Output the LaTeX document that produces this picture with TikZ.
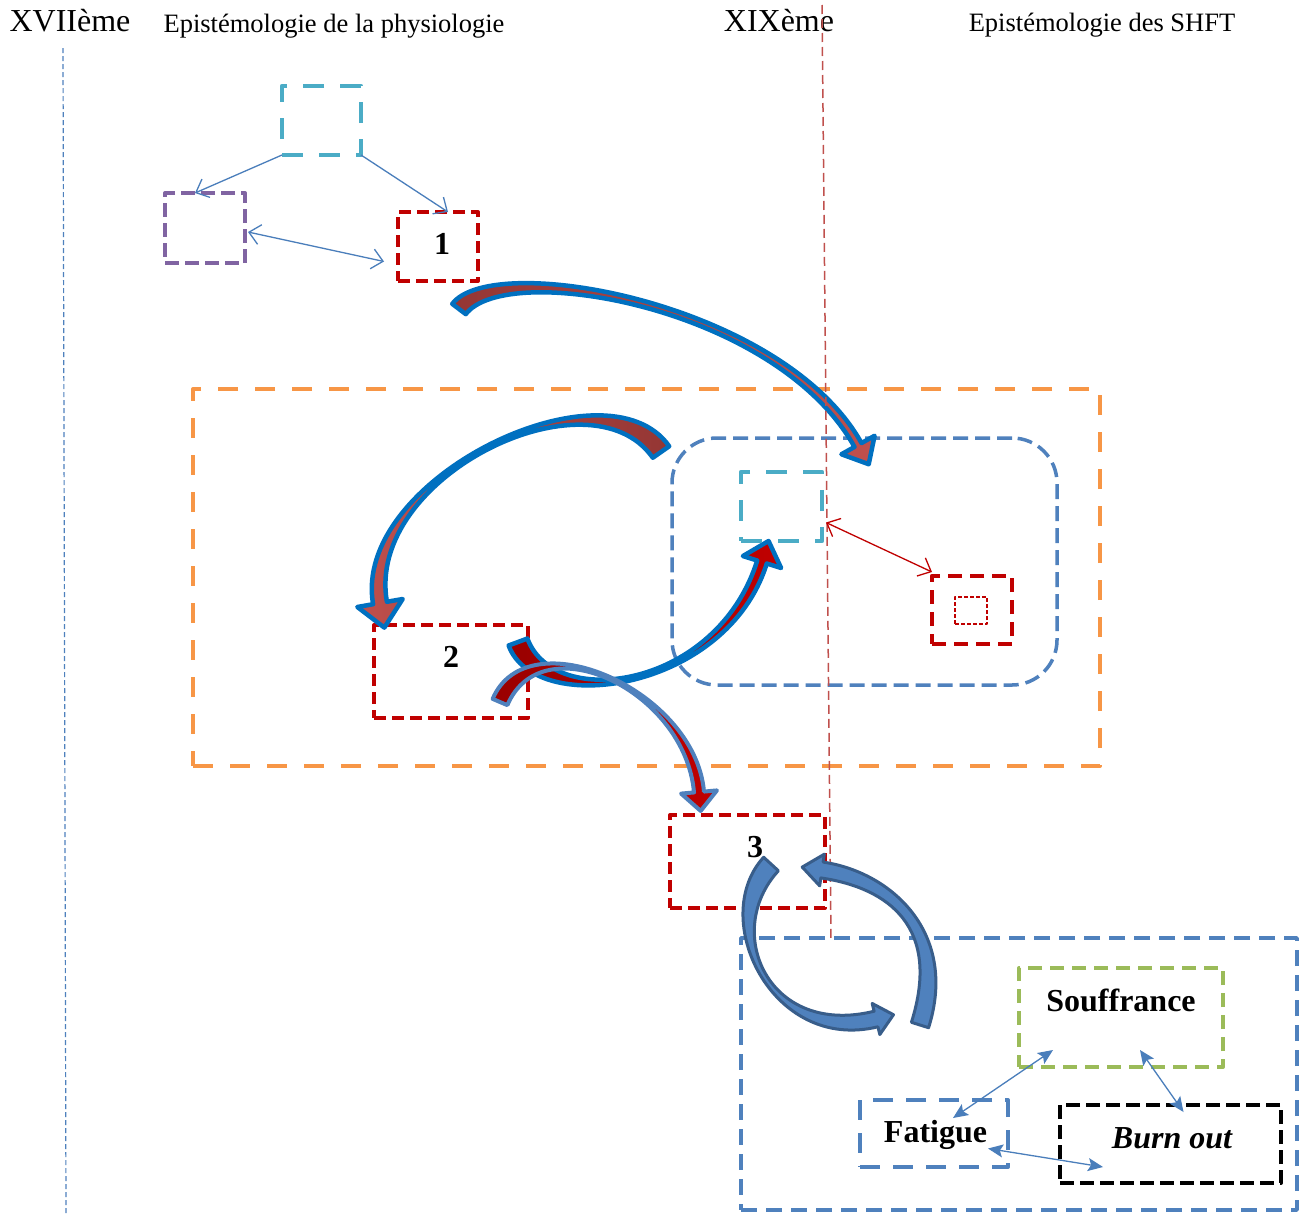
\documentclass[tikz,border=0pt]{standalone}
\usepackage{fontspec}
\setmainfont{Liberation Serif}
\usetikzlibrary{calc,arrows.meta}
\definecolor{cyanb}{HTML}{4BACC6}
\definecolor{purp}{HTML}{8064A2}
\definecolor{dred}{HTML}{C00000}
\definecolor{orng}{HTML}{F79646}
\definecolor{stblue}{HTML}{4F81BD}
\definecolor{lnblue}{HTML}{4A7EBB}
\definecolor{grn}{HTML}{9BBB59}
\definecolor{brightblue}{HTML}{0070C0}
\definecolor{darkblue}{HTML}{385D8A}
\definecolor{brick}{HTML}{943634}
\definecolor{brickl}{HTML}{C0504D}
\definecolor{maroonr}{HTML}{990000}
% curved block arrow: #1 style, #2 tail centre, #3 #4 controls, #5 head base centre,
% #6 tail half width, #7 neck half width, #8 head half width, #9 head length
\newcommand\bentarrow[9]{%
  \coordinate (ba0) at (#2);\coordinate (ba1) at (#3);
  \coordinate (ba2) at (#4);\coordinate (ba3) at (#5);
  \path[#1] ($(ba0)!#6!90:(ba1)$) .. controls ($(ba1)!#6!-90:(ba0)$) and ($(ba2)!#7!90:(ba3)$) .. ($(ba3)!#7!-90:(ba2)$)
    -- ($(ba3)!#8!-90:(ba2)$) -- ($(ba3)!#9!180:(ba2)$) -- ($(ba3)!#8!90:(ba2)$) -- ($(ba3)!#7!90:(ba2)$)
    .. controls ($(ba2)!#7!-90:(ba3)$) and ($(ba1)!#6!90:(ba0)$) .. ($(ba0)!#6!-90:(ba1)$) -- cycle;
}
\begin{document}
\begin{tikzpicture}[x=1pt,y=-1pt,
  boxbase/.style={inner sep=0pt, outer sep=0pt, line width=4pt, line join=round},
  redbox/.style={boxbase, draw=dred, dash pattern=on 12pt off 6pt},
  cyanbox/.style={boxbase, draw=cyanb, line width=4.5pt, dash pattern=on 21pt off 16pt},
  hdr/.style={inner sep=0pt, font=\fontsize{26.5}{30}\selectfont},
  century/.style={inner sep=0pt, font=\fontsize{32}{36}\selectfont},
  num/.style={inner sep=0pt, font=\fontsize{32}{36}\selectfont\bfseries},
  word/.style={inner sep=0pt, font=\fontsize{32}{36}\selectfont\bfseries},
  thinarr/.style={draw=lnblue, line width=1.3pt},
  barbs/.style={arrows={-Straight Barb[length=11pt,width=20pt]}},
  dbarbs/.style={arrows={Straight Barb[length=11pt,width=20pt]-Straight Barb[length=11pt,width=20pt]}},
  dsteal/.style={arrows={Stealth[length=15pt,width=13pt,inset=3pt]-Stealth[length=15pt,width=13pt,inset=3pt]}},
  blockarr/.style={line join=round}
]
\useasboundingbox (0,0) rectangle (1309,1213);
\fill[white] (0,0) rectangle (1309,1213);

% headers
\node[century] (t1) at (70,21) {XVIIème};
\node[hdr] (t2) at (334,26) {Epistémologie de la physiologie};
\node[century] (t3) at (779,21) {XIXème};
\node[hdr] (t4) at (1102,25.6) {Epistémologie des SHFT};

% left time line
\coordinate (lb0) at (63,48);
\coordinate (lb1) at (66,1213);
\draw[stblue, line width=1.2pt, dash pattern=on 5pt off 3pt] (lb0) -- (lb1);

% top group
\node[cyanbox, minimum width=79pt, minimum height=69pt] (A) at (321.5,120.5) {};
\node[boxbase, draw=purp, dash pattern=on 14pt off 6pt, minimum width=80pt, minimum height=70pt] (B) at (205,228) {};
\node[redbox, minimum width=80pt, minimum height=69pt] (n1) at (438,246.5) {};
\node[num] (l1) at (442,244) {1};
\draw[thinarr, barbs] (A.south west) -- ([xshift=-10pt]B.north);
\draw[thinarr, barbs] (A.south east) -- ([xshift=10pt]n1.north);
\draw[thinarr, dbarbs] ($(B.east)+(3,4)$) -- ($(n1.west)+(-14,15)$);

% middle group
\node[boxbase, draw=orng, dash pattern=on 20pt off 17pt, minimum width=907pt, minimum height=377pt] (O) at (646.5,577.5) {};
\node[boxbase, draw=stblue, line width=3.5pt, rounded corners=45pt, dash pattern=on 15pt off 7pt, minimum width=385pt, minimum height=247pt] (R) at (864.5,561.5) {};
\node[boxbase, draw=dred, line width=4.5pt, dash pattern=on 14pt off 8pt, minimum width=80pt, minimum height=68pt] (D) at (972,610) {};
\node[boxbase, draw=dred, line width=1.1pt, dash pattern=on 4pt off 2pt, minimum width=32pt, minimum height=27pt] (Di) at (971,610.5) {};
\node[redbox, minimum width=154pt, minimum height=93pt] (n2) at (451,671.5) {};
\node[num] (l2) at (451,657) {2};
\node[redbox, minimum width=155pt, minimum height=93pt] (n3) at (747.5,861.5) {};
\node[num] (l3) at (755,847.5) {3};

% bottom group
\node[boxbase, draw=stblue, line width=3.5pt, dash pattern=on 16pt off 9pt, minimum width=556pt, minimum height=272pt] (E) at (1019,1074) {};
\node[boxbase, draw=grn, dash pattern=on 14pt off 8pt, minimum width=204pt, minimum height=99pt] (S) at (1121,1017.5) {};
\node[word] (ls) at (1121,1000) {Souffrance};
\node[boxbase, draw=stblue, dash pattern=on 20pt off 13pt, minimum width=148pt, minimum height=67pt] (F) at (934,1133.5) {};
\node[word] (lf) at (935.5,1134.5) {Fatigue};
\node[boxbase, draw=black, dash pattern=on 14pt off 6pt, minimum width=221pt, minimum height=78pt] (BO) at (1170.5,1144) {};
\node[inner sep=0pt, font=\fontsize{32}{36}\selectfont\bfseries\itshape] (lbo) at (1172,1138) {Burn out};

% curved block arrows
\bentarrow{blockarr, draw=brightblue, line width=4.5pt, left color=brick, right color=brickl}{459,309}{500,255}{780,305}{858,445}{8.5pt}{4pt}{19pt}{22pt}
\bentarrow{blockarr, draw=brightblue, line width=4.5pt, left color=brickl, right color=brick}{661,452}{598,362}{358,478}{380,603}{10pt}{7pt}{23pt}{25pt}
\bentarrow{blockarr, draw=brightblue, line width=4.5pt, left color=maroonr, right color=dred}{518,642}{545,715}{722,690}{762,562}{10pt}{5pt}{20pt}{22pt}
\bentarrow{blockarr, draw=stblue, line width=4pt, left color=maroonr, right color=dred}{500,702}{535,620}{690,690}{699,792}{8pt}{5pt}{18pt}{19pt}

% XIXe time line
\coordinate (rl0) at (822,5);
\coordinate (rl1) at (831,940);
\draw[brickl, line width=1.5pt, dash pattern=on 9pt off 5pt] (rl0) -- (rl1);

\node[cyanbox, minimum width=81pt, minimum height=69pt] (C) at (781.5,506.5) {};
\draw[draw=dred, line width=1.3pt, dbarbs] ($(C.east)+(4,16)$) -- ($(D.north west)+(0,-4)$);

% circular arrows
\bentarrow{blockarr, draw=darkblue, line width=3pt, fill=stblue}{771,864}{715,925}{770,1045}{876,1019}{10pt}{8pt}{16pt}{18pt}
\bentarrow{blockarr, draw=darkblue, line width=3pt, fill=stblue}{920,1025}{950,930}{890,880}{822,870}{9pt}{8pt}{16pt}{20pt}

% relations in the bottom box
\draw[thinarr, dsteal] ($(S.south west)+(34,-17)$) -- ($(F.north)+(19,18)$);
\draw[thinarr, dsteal] ($(S.south)+(19,-17)$) -- ($(BO.north)+(13,7)$);
\draw[thinarr, dsteal] ($(F.east)+(-20,15)$) -- ($(BO.west)+(43,23)$);
\end{tikzpicture}
\end{document}
